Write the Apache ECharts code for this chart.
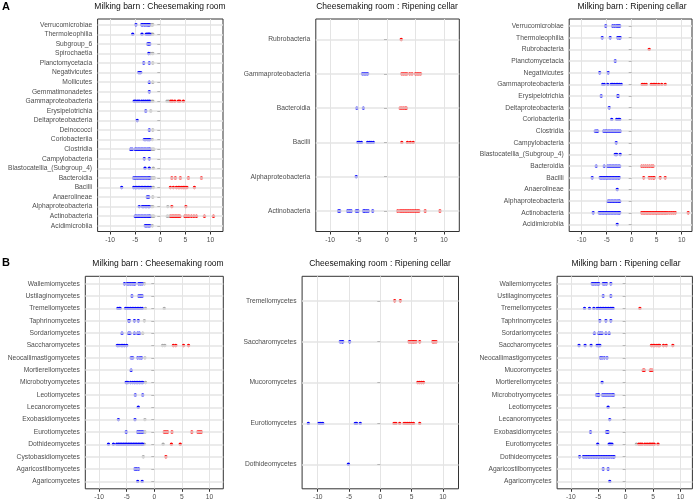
<!DOCTYPE html>
<html>
<head>
<meta charset="utf-8">
<script src="https://cdn.jsdelivr.net/npm/echarts@6/dist/echarts.min.js"></script>
<style>
  html, body { margin: 0; padding: 0; background: #fff; }
  #chart { width: 696px; height: 502px; }
</style>
</head>
<body>
<div id="chart"></div>
<script>
// class lists are written top to bottom, as they read in the picture
const xTicks = [-10, -5, 0, 5, 10]
const panelTitles = [
  'Milking barn : Cheesemaking room', 'Cheesemaking room : Ripening cellar', 'Milking barn : Ripening cellar',
  'Milking barn : Cheesemaking room', 'Cheesemaking room : Ripening cellar', 'Milking barn : Ripening cellar'
]

// A - bacteria
const a1Classes = ['Verrucomicrobiae', 'Thermoleophilia', 'Subgroup_6', 'Spirochaetia', 'Planctomycetacia', 'Negativicutes',
  'Mollicutes', 'Gemmatimonadetes', 'Gammaproteobacteria', 'Erysipelotrichia', 'Deltaproteobacteria', 'Deinococci',
  'Coriobacteriia', 'Clostridia', 'Campylobacteria', 'Blastocatellia_(Subgroup_4)', 'Bacteroidia', 'Bacilli',
  'Anaerolineae', 'Alphaproteobacteria', 'Actinobacteria', 'Acidimicrobiia']
const a1Down = [
  [-4.85, -3.7, -3.5, -3.2, -3.0, -2.7, -2.5, -2.3, -2.2], [-5.5, -3.65, -2.8, -2.5, -2.3, -2.1], [-2.5, -2.3, -2.1],
  [-2.3], [-3.3, -2.2], [-4.3, -4.1, -3.9], [-2.2], [-2.2],
  [-5.2, -4.9, -4.5, -4.2, -3.7, -3.3, -2.9, -2.5, -2.2], [-2.9], [-4.6], [-2.2], [-3.2, -2.9, -2.6, -2.3, -2.1],
  [-5.9, -5.6, -5.0, -4.7, -4.4, -4.1, -3.8, -3.5, -3.2, -2.9, -2.6, -2.3, -2.1], [-3.2, -2.2], [-3.05, -2.2],
  [-5.3, -5.0, -4.7, -4.4, -4.1, -3.8, -3.5, -3.2, -2.9, -2.6, -2.3, -2.1],
  [-7.7, -5.3, -5.0, -4.7, -4.4, -4.1, -3.8, -3.5, -3.2, -2.9, -2.6, -2.3, -2.0], [-2.6, -2.3],
  [-4.2, -3.6, -3.3, -3.0, -2.7, -2.4, -2.2], [-5.0, -4.7, -4.4, -4.1, -3.8, -3.5, -3.2, -2.9, -2.6, -2.3, -2.1],
  [-3.0, -2.7, -2.4, -2.1]
]
const a1Up = [
  [], [], [], [], [], [], [], [], [2.1, 2.4, 2.9, 3.6, 3.9, 4.6], [], [], [], [], [], [], [],
  [2.3, 3.0, 4.0, 5.6, 8.2], [2.0, 2.6, 3.2, 3.6, 3.9, 4.3, 4.6, 4.9, 5.3, 6.8], [], [2.3, 5.1],
  [2.1, 2.4, 2.7, 3.0, 3.3, 3.6, 3.9, 4.9, 5.3, 5.7, 6.2, 6.7, 7.2, 8.8, 10.6], []
]
const a1NS = [
  [-2.0, -1.7, -1.5], [-1.8, -1.5], [], [-1.9, -1.5], [-1.5], [], [-1.5], [], [-1.9, -1.5, 1.35, 1.7], [-1.9], [],
  [-1.5], [-1.6], [-1.9, -1.6, -1.3], [], [-1.4], [-1.8, -1.5, -1.2], [-1.7, -1.4], [-1.5], [-1.8, -1.5, 1.5],
  [-1.9, -1.6, -1.3, 1.4, 1.8], [-1.6]
]

const a2Classes = ['Rubrobacteria', 'Gammaproteobacteria', 'Bacteroidia', 'Bacilli', 'Alphaproteobacteria', 'Actinobacteria']
const a2Down = [
  [], [-4.3, -4.0, -3.7, -3.4], [-5.3, -4.15], [-5.1, -4.8, -4.5, -3.4, -3.1, -2.8, -2.4], [-5.4],
  [-8.5, -8.3, -6.9, -6.6, -6.3, -5.4, -5.1, -4.1, -3.9, -3.6, -3.3, -2.5]
]
const a2Up = [
  [2.5], [2.6, 2.9, 3.2, 3.5, 4.0, 4.4, 5.0, 5.3, 5.6, 5.9], [2.3, 2.6, 2.9, 3.2, 3.4], [2.6, 3.6, 4.1, 4.6], [],
  [1.9, 2.3, 2.6, 2.9, 3.2, 3.5, 3.8, 4.1, 4.4, 4.7, 5.0, 5.3, 5.6, 6.7, 9.3]
]
const a2NS = [[], [], [], [], [], []]

const a3Classes = ['Verrucomicrobiae', 'Thermoleophilia', 'Rubrobacteria', 'Planctomycetacia', 'Negativicutes',
  'Gammaproteobacteria', 'Erysipelotrichia', 'Deltaproteobacteria', 'Coriobacteriia', 'Clostridia', 'Campylobacteria',
  'Blastocatellia_(Subgroup_4)', 'Bacteroidia', 'Bacilli', 'Anaerolineae', 'Alphaproteobacteria', 'Actinobacteria',
  'Acidimicrobiia']
const a3Down = [
  [-5.2, -3.8, -3.4, -3.0, -2.7, -2.4], [-5.9, -4.3, -2.8, -2.5, -2.3], [], [-3.3], [-6.4, -4.7],
  [-5.8, -5.5, -4.8, -4.1, -3.8, -3.5, -3.1, -2.8, -2.5, -2.1], [-6.1, -2.8, -2.7], [-4.5], [-4.0, -3.0, -2.7, -2.4],
  [-7.3, -7.0, -6.8, -5.6, -5.3, -5.0, -4.7, -4.4, -4.1, -3.8, -3.5, -3.2, -2.9, -2.6, -2.3], [-3.1], [-3.3, -3.0, -2.3],
  [-7.1, -5.5, -4.8, -4.5, -4.2, -3.9, -3.6, -3.3, -3.0, -2.7, -2.4],
  [-7.9, -6.3, -6.0, -5.7, -5.4, -5.1, -4.8, -4.5, -4.2, -3.9, -3.6, -3.3, -3.0, -2.7, -2.5], [-2.9],
  [-4.7, -4.4, -4.1, -3.8, -3.5, -3.2, -2.9, -2.6, -2.4],
  [-7.7, -6.5, -6.2, -5.9, -5.6, -5.3, -5.0, -4.7, -4.4, -4.1, -3.8, -3.5, -3.2, -2.9, -2.6, -2.4], [-2.9]
]
const a3Up = [
  [], [], [3.5], [], [], [2.1, 2.5, 2.9, 3.9, 4.3, 4.6, 4.9, 5.4, 6.0, 6.7], [], [], [], [], [], [],
  [2.0, 2.4, 2.8, 3.2, 3.6, 4.0, 4.3], [2.4, 3.5, 3.9, 4.3, 4.5, 5.7, 6.7], [], [],
  [2.0, 2.3, 2.6, 2.9, 3.2, 3.5, 3.8, 4.1, 4.4, 4.7, 5.0, 5.3, 5.6, 5.9, 6.2, 6.5, 6.8, 7.1, 7.5, 7.9, 8.3, 8.7, 11.3], []
]
const a3NS = a3Classes.map(() => [])

// B - fungi
const b1Classes = ['Wallemiomycetes', 'Ustilaginomycetes', 'Tremellomycetes', 'Taphrinomycetes', 'Sordariomycetes',
  'Saccharomycetes', 'Neocallimastigomycetes', 'Mortierellomycetes', 'Microbotryomycetes', 'Leotiomycetes',
  'Lecanoromycetes', 'Exobasidiomycetes', 'Eurotiomycetes', 'Dothideomycetes', 'Cystobasidiomycetes',
  'Agaricostilbomycetes', 'Agaricomycetes']
const b1Down = [
  [-5.4, -4.9, -4.6, -4.3, -4.0, -3.7, -3.5, -2.8, -2.5, -2.2], [-4.05, -2.8, -2.5, -2.2],
  [-6.6, -6.3, -6.2, -5.2, -4.9, -4.6, -4.3, -4.0, -3.7, -3.4, -3.1, -2.8, -2.5, -2.2], [-4.65, -4.5, -3.6, -2.9],
  [-5.85, -4.65, -4.4, -3.6, -3.0, -2.7], [-6.7, -6.4, -6.0, -5.7, -5.4, -5.0], [-4.2, -3.9, -3.0, -2.6, -2.3], [-4.2],
  [-5.1, -4.8, -4.3, -3.9, -3.6, -3.3, -3.0, -2.7, -2.4, -2.1], [-3.45, -2.1], [-2.9], [-6.5, -3.5],
  [-5.1, -3.0, -2.7, -2.4, -2.1],
  [-8.3, -7.4, -6.8, -6.5, -6.2, -5.9, -5.6, -5.3, -5.0, -4.7, -4.4, -4.1, -3.8, -3.5, -3.2, -2.9, -2.6, -2.3, -2.1],
  [], [-3.5, -3.2, -2.85], [-3.0, -2.2]
]
const b1Up = [
  [], [], [], [], [], [3.45, 3.9, 5.3, 6.2], [], [], [], [], [], [], [1.8, 2.1, 2.4, 3.2, 6.8, 7.9, 8.2, 8.5],
  [3.1, 4.7], [2.1], [], []
]
const b1NS = [
  [-1.8], [], [-1.6, 1.8], [-1.8], [-2.1], [1.5, 1.9], [-1.7], [], [-1.6], [], [], [-1.7], [-1.7], [-1.8, 1.6],
  [-2.0], [], []
]

const b2Classes = ['Tremellomycetes', 'Saccharomycetes', 'Mucoromycetes', 'Eurotiomycetes', 'Dothideomycetes']
const b2Down = [[], [-6.4, -6.1, -6.0, -4.9], [], [-11.5, -9.8, -9.5, -9.2, -4.0, -3.8, -3.2], [-5.1]]
const b2Up = [
  [2.3, 3.2], [4.6, 4.9, 5.2, 5.4, 5.7, 6.3, 8.4, 8.6, 8.9], [6.0, 6.3, 6.6, 6.9],
  [2.2, 2.5, 3.1, 3.8, 4.1, 4.4, 4.7, 5.0, 5.3, 6.3], []
]
const b2NS = [[], [], [], [], []]

const b3Classes = ['Wallemiomycetes', 'Ustilaginomycetes', 'Tremellomycetes', 'Taphrinomycetes', 'Sordariomycetes',
  'Saccharomycetes', 'Neocallimastigomycetes', 'Mucoromycetes', 'Mortierellomycetes', 'Microbotryomycetes',
  'Leotiomycetes', 'Lecanoromycetes', 'Exobasidiomycetes', 'Eurotiomycetes', 'Dothideomycetes',
  'Agaricostilbomycetes', 'Agaricomycetes']
const b3Down = [
  [-6.1, -5.8, -5.5, -5.2, -4.9, -4.1, -3.8, -3.5, -2.7], [-4.1, -2.7],
  [-7.5, -6.6, -5.8, -5.2, -4.9, -4.6, -4.3, -4.0, -3.7, -3.4, -3.1, -2.8, -2.5, -2.3], [-4.7, -3.6, -2.7],
  [-5.7, -4.9, -4.6, -4.3, -3.6, -3.0], [-8.5, -7.4, -6.3, -5.2, -4.9, -4.7], [-4.6, -4.3, -3.9, -3.4], [], [-4.3],
  [-5.3, -5.0, -4.9, -4.2, -3.9, -3.6, -3.3, -3.0, -2.7, -2.4, -2.2], [-3.2], [-2.9], [-6.4, -3.5, -3.3, -3.2],
  [-5.1, -3.0, -2.8, -2.5],
  [-8.4, -7.7, -7.4, -7.1, -6.8, -6.5, -6.2, -5.9, -5.6, -5.3, -5.0, -4.7, -4.4, -4.1, -3.8, -3.5, -3.2, -2.9, -2.6, -2.3, -2.1],
  [-4.1, -3.2], [-2.9]
]
const b3Up = [
  [], [], [2.6], [], [], [4.7, 5.0, 5.3, 5.7, 6.0, 6.2, 6.9, 7.4, 8.6], [], [3.2, 3.4, 4.5, 4.8], [], [], [], [], [],
  [2.4, 2.7, 3.0, 3.5, 3.9, 4.3, 4.6, 4.9, 5.2, 5.9], [], [], []
]
const b3NS = [[], [], [], [], [], [], [], [], [], [], [], [], [], [1.95], [], [], []]

const panels = [
  { classes: a1Classes, down: a1Down, up: a1Up, ns: a1NS, left: 97.6, width: 125.4, top: 19, max: 12.5, cx: 160, ty: 7 },
  { classes: a2Classes, down: a2Down, up: a2Up, ns: a2NS, left: 315.8, width: 143.5, top: 19, max: 12.7, cx: 387, ty: 7 },
  { classes: a3Classes, down: a3Down, up: a3Up, ns: a3NS, left: 569.2, width: 122.8, top: 19, max: 12.06, cx: 632, ty: 7 },
  { classes: b1Classes, down: b1Down, up: b1Up, ns: b1NS, left: 85.3, width: 138, top: 276.3, max: 12.5, cx: 158, ty: 264 },
  { classes: b2Classes, down: b2Down, up: b2Up, ns: b2NS, left: 302.1, width: 156.4, top: 276.3, max: 12.5, cx: 380, ty: 264 },
  { classes: b3Classes, down: b3Down, up: b3Up, ns: b3NS, left: 557.1, width: 135.3, top: 276.3, max: 12.17, cx: 626, ty: 264 }
]

const FONT = '"Liberation Sans", Arial, sans-serif'
const gridColor = '#e4e4e4'

// position n (top) .. 1 (bottom), like ggplot's discrete scale
const toPoints = (p, lists) => {
  const n = p.classes.length
  const pts = []
  lists.forEach((vals, i) => vals.forEach((v) => pts.push([v, n - i])))
  return pts
}

const grids = []
const xAxes = []
const yAxes = []
const series = []
const graphics = []

panels.forEach((p, k) => {
  const n = p.classes.length
  const pos = p.classes.map((c, i) => i + 1)
  grids.push({
    left: p.left, top: p.top, width: p.width, height: 212.5,
    show: true, borderColor: '#333', borderWidth: 1, backgroundColor: 'transparent'
  })
  xAxes.push({
    type: 'value', gridIndex: k, min: -12.5, max: p.max, interval: 2.5,
    axisLine: { show: false },
    axisTick: { show: true, customValues: xTicks, length: 3, lineStyle: { color: '#333', width: 1 } },
    axisLabel: { customValues: xTicks, fontSize: 6.7, color: '#4d4d4d', fontFamily: FONT, margin: 5 },
    splitLine: { show: true, lineStyle: { color: gridColor, width: 1 } }
  })
  yAxes.push({
    type: 'value', gridIndex: k, min: 0.4, max: n + 0.6,
    axisLine: { show: false },
    axisTick: { show: true, customValues: pos, length: 3, lineStyle: { color: '#333', width: 1 } },
    axisLabel: {
      customValues: pos, fontSize: 6.7, color: '#4d4d4d', fontFamily: FONT, margin: 5.5,
      formatter: (v) => p.classes[n - Math.round(v)]
    },
    splitLine: { show: false }
  })
  series.push({
    type: 'line', xAxisIndex: k, yAxisIndex: k, data: [], silent: true, z: 1,
    markLine: {
      silent: true, symbol: ['none', 'none'], label: { show: false },
      lineStyle: { color: gridColor, width: 1.5, type: 'solid' },
      emphasis: { disabled: true },
      data: pos.map((y) => ({ yAxis: y }))
    }
  })
  const dots = [['#a8a8a8', p.ns], ['#0000ff', p.down], ['#ff0000', p.up]]
  dots.forEach(([color, lists]) => {
    series.push({
      type: 'scatter', xAxisIndex: k, yAxisIndex: k, z: 3, silent: true,
      symbol: 'circle', symbolSize: 3.4,
      itemStyle: { color: color, opacity: 1 },
      data: toPoints(p, lists)
    })
  })
  graphics.push({
    type: 'text', x: p.cx, y: p.ty,
    style: { text: panelTitles[k], fontSize: 8.5, fontFamily: FONT, fill: '#111', align: 'center', verticalAlign: 'middle' }
  })
})

graphics.push({ type: 'text', x: 2, y: 7, style: { text: 'A', fontSize: 11, fontWeight: 'bold', fontFamily: FONT, fill: '#000', verticalAlign: 'middle' } })
graphics.push({ type: 'text', x: 2, y: 263, style: { text: 'B', fontSize: 11, fontWeight: 'bold', fontFamily: FONT, fill: '#000', verticalAlign: 'middle' } })

const myChart = echarts.init(document.getElementById('chart'), null, { renderer: 'canvas' })
myChart.setOption({
  animation: false,
  backgroundColor: '#fff',
  grid: grids,
  xAxis: xAxes,
  yAxis: yAxes,
  series: series,
  graphic: graphics
})
</script>
</body>
</html>
